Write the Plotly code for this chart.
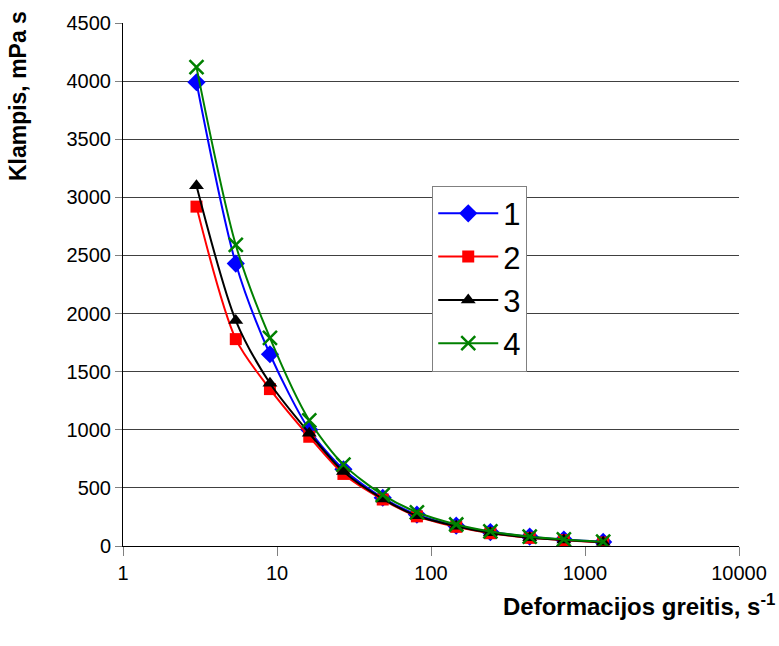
import plotly.graph_objects as go

shear_rate = [3.0, 5.4, 9.0, 16.2, 27.0, 48.6, 81.0, 145.8, 243.0, 437.4, 729.0, 1312.0]
visc_1 = [3990, 2430, 1650, 1000, 660, 415, 270, 175, 120, 80, 55, 35]
visc_2 = [2920, 1780, 1350, 940, 620, 400, 255, 165, 110, 70, 50, 30]
visc_3 = [3100, 1940, 1400, 970, 640, 405, 260, 170, 113, 72, 52, 32]
visc_4 = [4120, 2590, 1790, 1080, 700, 440, 290, 185, 125, 80, 57, 37]
names = ["1", "2", "3", "4"]
y_ticks = [0, 500, 1000, 1500, 2000, 2500, 3000, 3500, 4000, 4500]
x_ticks = [1, 10, 100, 1000, 10000]

styles = [
    dict(color="#0000FF", symbol="diamond", size=14),
    dict(color="#FF0000", symbol="square", size=12),
    dict(color="#000000", symbol="triangle-up", size=13),
    dict(color="#008000", symbol="x-thin-open", size=14),
]

fig = go.Figure()
for name, vals, st in zip(names, [visc_1, visc_2, visc_3, visc_4], styles):
    marker = dict(color=st["color"], symbol=st["symbol"], size=st["size"])
    if st["symbol"] == "x-thin-open":
        marker["line"] = dict(color=st["color"], width=2.5)
    else:
        marker["line"] = dict(width=0)
    fig.add_trace(go.Scatter(
        x=shear_rate, y=vals, name=name, mode="lines+markers",
        line=dict(color=st["color"], width=2, shape="spline", smoothing=0.8),
        marker=marker,
    ))

fig.update_layout(
    width=779, height=646,
    margin=dict(l=123, r=40, t=19, b=100),
    paper_bgcolor="white", plot_bgcolor="white",
    font=dict(family="Liberation Sans, Arial, sans-serif", color="black", size=20),
    legend=dict(
        x=0.502, y=0.689, xanchor="left", yanchor="top",
        bordercolor="#808080", borderwidth=1, bgcolor="white",
        font=dict(size=31), itemwidth=60, tracegroupgap=0, maxheight=500,
    ),
    showlegend=True,
)
fig.update_xaxes(
    type="log", range=[0, 4], tickvals=x_ticks, ticktext=[str(v) for v in x_ticks],
    showgrid=False, showline=True, linecolor="black", linewidth=1,
    ticks="outside", ticklen=9, tickcolor="#808080", zeroline=False,
)
fig.update_yaxes(
    range=[0, 4500], tickvals=y_ticks,
    showgrid=True, gridcolor="#404040", gridwidth=1,
    showline=True, linecolor="black", linewidth=1,
    ticks="outside", ticklen=7, tickcolor="#808080", zeroline=False,
)
fig.add_annotation(
    text="<b>Klampis, mPa s</b>", textangle=-90,
    xref="paper", yref="paper", x=-123/616 + 18/616, y=1 + 14/527,
    xanchor="center", yanchor="top", showarrow=False,
    font=dict(size=23),
)
fig.add_annotation(
    text="<b>Deformacijos greitis, s<sup>-1</sup></b>",
    xref="paper", yref="paper", x=1 + 38/616, y=-59/527,
    xanchor="right", yanchor="middle", showarrow=False,
    font=dict(size=24),
)
fig.write_html("out.html")
